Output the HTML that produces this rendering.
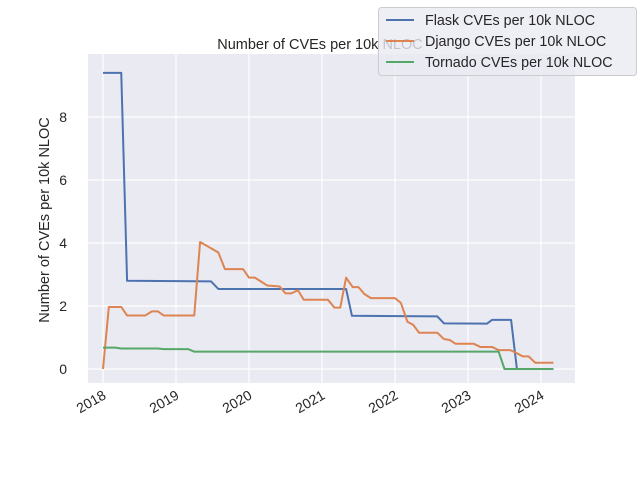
<!DOCTYPE html>
<html><head><meta charset="utf-8"><style>
body{margin:0;background:#fff;}
svg text{font-family:"Liberation Sans","DejaVu Sans",sans-serif;fill:#262626;}
</style></head><body>
<svg width="640" height="480">
<rect x="88" y="54" width="487" height="329" fill="#eaeaf2"/>
<g id="grid"></g><g id="series"></g><g id="ticks"></g>
<text x="320" y="49" text-anchor="middle" font-size="14.5">Number of CVEs per 10k NLOC</text>
<text transform="translate(49,220) rotate(-90)" text-anchor="middle" font-size="14.5">Number of CVEs per 10k NLOC</text>
<g>
<rect x="378.5" y="7.5" width="258" height="68" rx="3" fill="#eaeaf2" fill-opacity="0.8" stroke="#ccc"/>
<line x1="386" y1="20" x2="414" y2="20" stroke="#4c72b0" stroke-width="2"/>
<text x="425" y="25" font-size="14.3">Flask CVEs per 10k NLOC</text>
<line x1="386" y1="41" x2="414" y2="41" stroke="#dd8452" stroke-width="2"/>
<text x="425" y="46" font-size="14.3">Django CVEs per 10k NLOC</text>
<line x1="386" y1="62" x2="414" y2="62" stroke="#55a868" stroke-width="2"/>
<text x="425" y="67" font-size="14.3">Tornado CVEs per 10k NLOC</text>
</g>
</svg>
<script>
const yTicks=[0,2,4,6,8];
const xTicks=[2018,2019,2020,2021,2022,2023,2024];
const flaskX=[2018.0,2018.25,2018.33,2019.48,2019.58,2021.33,2021.41,2022.58,2022.67,2023.26,2023.33,2023.59,2023.67,2024.17];
const flaskY=[9.4,9.4,2.8,2.78,2.54,2.54,1.69,1.67,1.45,1.44,1.56,1.56,0,0];
const djangoX=[2018.0,2018.08,2018.25,2018.33,2018.58,2018.67,2018.75,2018.83,2019.25,2019.33,2019.58,2019.67,2019.92,2020.0,2020.08,2020.25,2020.42,2020.5,2020.58,2020.67,2020.75,2021.08,2021.17,2021.25,2021.33,2021.42,2021.5,2021.58,2021.67,2022.0,2022.08,2022.17,2022.25,2022.33,2022.58,2022.67,2022.75,2022.83,2023.08,2023.17,2023.33,2023.42,2023.58,2023.67,2023.75,2023.83,2023.92,2024.17];
const djangoY=[0,1.97,1.97,1.7,1.7,1.83,1.83,1.7,1.7,4.03,3.7,3.17,3.17,2.9,2.9,2.65,2.62,2.4,2.4,2.5,2.2,2.2,1.95,1.95,2.9,2.6,2.6,2.38,2.25,2.25,2.1,1.5,1.4,1.15,1.15,0.95,0.92,0.8,0.8,0.7,0.7,0.6,0.6,0.5,0.4,0.4,0.2,0.2];
const tornadoX=[2018.0,2018.17,2018.25,2018.75,2018.83,2019.17,2019.25,2023.42,2023.5,2024.17];
const tornadoY=[0.68,0.68,0.65,0.65,0.63,0.63,0.55,0.55,0,0];
const NS='http://www.w3.org/2000/svg';
const xs=v=>103+(v-2018)*73;
const ys=v=>369-v*31.5;
function mk(t,a,p){const e=document.createElementNS(NS,t);for(const k in a)e.setAttribute(k,a[k]);document.getElementById(p).appendChild(e);return e;}
yTicks.forEach(v=>{
 const l=mk('line',{x1:88,x2:575,y1:ys(v),y2:ys(v),stroke:'#fff','stroke-width':1.2},'grid');
 
 
 const t=mk('text',{x:67,y:ys(v)+5,'text-anchor':'end','font-size':14},'ticks');
 t.textContent=v;
 
 
});
xTicks.forEach(v=>{
 const l=mk('line',{x1:xs(v),x2:xs(v),y1:54,y2:383,stroke:'#fff','stroke-width':1.2},'grid');
 
 
 const t=mk('text',{transform:`translate(${xs(v)+4},${398}) rotate(-30)`,'text-anchor':'end','font-size':14},'ticks');
 t.textContent=v;
 
 
});
[[flaskX,flaskY,'#4c72b0','flask-line'],[djangoX,djangoY,'#dd8452','django-line'],[tornadoX,tornadoY,'#55a868','tornado-line']].forEach(([X,Y,c,n])=>{
 const p=mk('polyline',{points:X.map((x,i)=>xs(x)+','+ys(Y[i])).join(' '),fill:'none',stroke:c,'stroke-width':2,'stroke-linejoin':'round'},'series');
 
 
});
</script>
</body></html>
